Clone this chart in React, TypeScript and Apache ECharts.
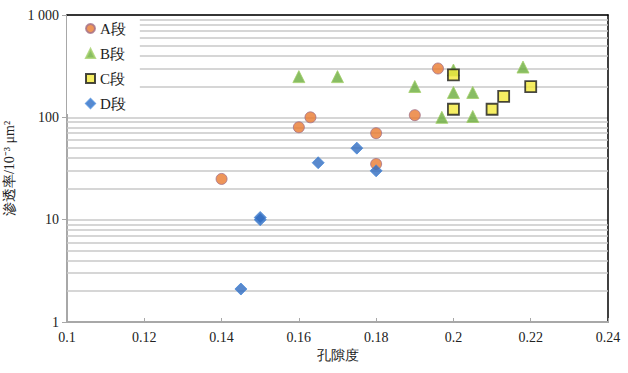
import React, { useEffect, useRef } from "react";
import * as echarts from "echarts";

const seriesA: [number, number][] = [
  [0.14, 25], [0.16, 80], [0.163, 100], [0.18, 70], [0.18, 35], [0.19, 105], [0.196, 300],
];
const seriesB: [number, number][] = [
  [0.16, 250], [0.17, 250], [0.19, 200], [0.2, 290], [0.2, 175], [0.205, 175],
  [0.197, 100], [0.205, 102], [0.218, 310],
];
const seriesC: [number, number][] = [
  [0.2, 260], [0.2, 120], [0.21, 120], [0.213, 160], [0.22, 200],
];
const seriesD: [number, number][] = [
  [0.145, 2.1], [0.15, 10], [0.15, 10.5], [0.165, 36], [0.175, 50], [0.18, 30],
];
const minorGrid: number[] = [2, 3, 4, 5, 6, 7, 8, 9, 20, 30, 40, 50, 60, 70, 80, 90, 200, 300, 400, 500, 600, 700, 800, 900];
const seriesNames = ["A段", "B段", "C段", "D段"];

const serif = "Liberation Serif";

export default function App() {
  const ref = useRef<HTMLDivElement>(null);
  useEffect(() => {
    if (!ref.current) return;
    const chart = echarts.init(ref.current, null, { renderer: "svg" });
    chart.setOption({
      animation: false,
      backgroundColor: "#fff",
      textStyle: { fontFamily: serif },
      grid: { left: 67, right: 20, top: 15, bottom: 51, outerBoundsMode: "none", containLabel: false },
      legend: {
        orient: "vertical",
        left: 67,
        top: 16,
        backgroundColor: "#fff",
        padding: [5, 14, 3, 18],
        itemGap: 10,
        itemWidth: 9,
        itemHeight: 9,
        textStyle: { fontFamily: serif, fontSize: 15, color: "#222", lineHeight: 15 },
        data: seriesNames,
        z: 10,
      },
      xAxis: [
        {
          type: "value",
          min: 0.1,
          max: 0.24,
          interval: 0.02,
          name: "孔隙度",
          nameLocation: "middle",
          nameGap: 22,
          nameTextStyle: { fontFamily: serif, fontSize: 14, color: "#222" },
          axisLine: { lineStyle: { color: "#a8a8a8", width: 2 } },
          axisTick: { show: true, inside: true, length: 4, lineStyle: { color: "#a8a8a8" } },
          axisLabel: { fontFamily: serif, fontSize: 14, color: "#222", margin: 8 },
          splitLine: { show: false },
        },
        {
          type: "value",
          position: "top",
          min: 0.1,
          max: 0.24,
          axisLine: { show: true, lineStyle: { color: "#000", width: 1.5 } },
          axisTick: { show: false },
          axisLabel: { show: false },
          splitLine: { show: false },
        },
      ],
      yAxis: [
        {
          type: "log",
          logBase: 10,
          min: 1,
          max: 1000,
          name: "渗透率/10⁻³ μm²",
          nameLocation: "middle",
          nameGap: 48,
          nameRotate: 90,
          nameTextStyle: { fontFamily: serif, fontSize: 14, color: "#222" },
          axisLine: { show: true, lineStyle: { color: "#a8a8a8", width: 2 } },
          axisTick: { show: true, length: 5, lineStyle: { color: "#a8a8a8" } },
          axisLabel: {
            fontFamily: serif,
            fontSize: 14,
            color: "#222",
            margin: 8,
            formatter: (v: number) => (v === 1000 ? "1 000" : String(v)),
          },
          splitLine: { show: true, lineStyle: { color: "#c8c8c8", width: 1.5 } },
        },
        {
          type: "log",
          logBase: 10,
          min: 1,
          max: 1000,
          position: "right",
          axisLine: { show: true, lineStyle: { color: "#000", width: 1.5 } },
          axisTick: { show: false },
          axisLabel: { show: false },
          splitLine: { show: false },
        },
      ],
      series: [
        {
          name: "grid-minor",
          type: "scatter",
          data: [],
          silent: true,
          markLine: {
            silent: true,
            symbol: "none",
            label: { show: false },
            lineStyle: { color: "#c8c8c8", width: 1.5, type: "solid" },
            data: minorGrid.map((v) => ({ yAxis: v })),
            z: 1,
          },
        },
        {
          name: seriesNames[0],
          type: "scatter",
          data: seriesA,
          symbol: "circle",
          symbolSize: 11,
          itemStyle: { color: "#ea7a30", borderColor: "#a2708a", borderWidth: 1 },
          z: 5,
        },
        {
          name: seriesNames[1],
          type: "scatter",
          data: seriesB,
          symbol: "triangle",
          symbolSize: 12,
          itemStyle: { color: "#6aac3c", borderColor: "#a4cf6a", borderWidth: 1 },
          z: 4,
        },
        {
          name: seriesNames[2],
          type: "scatter",
          data: seriesC,
          symbol: "rect",
          symbolSize: 11,
          itemStyle: { color: "#f4ea3c", borderColor: "#1a1a1a", borderWidth: 1.8 },
          z: 6,
        },
        {
          name: seriesNames[3],
          type: "scatter",
          data: seriesD,
          symbol: "diamond",
          symbolSize: 12,
          itemStyle: { color: "#2f6cc0", borderColor: "#4a8ad8", borderWidth: 1 },
          z: 5,
        },
      ],
    });
    return () => chart.dispose();
  }, []);
  return <div ref={ref} style={{ width: 628, height: 373, position: "absolute", left: 0, top: 0 }} />;
}
